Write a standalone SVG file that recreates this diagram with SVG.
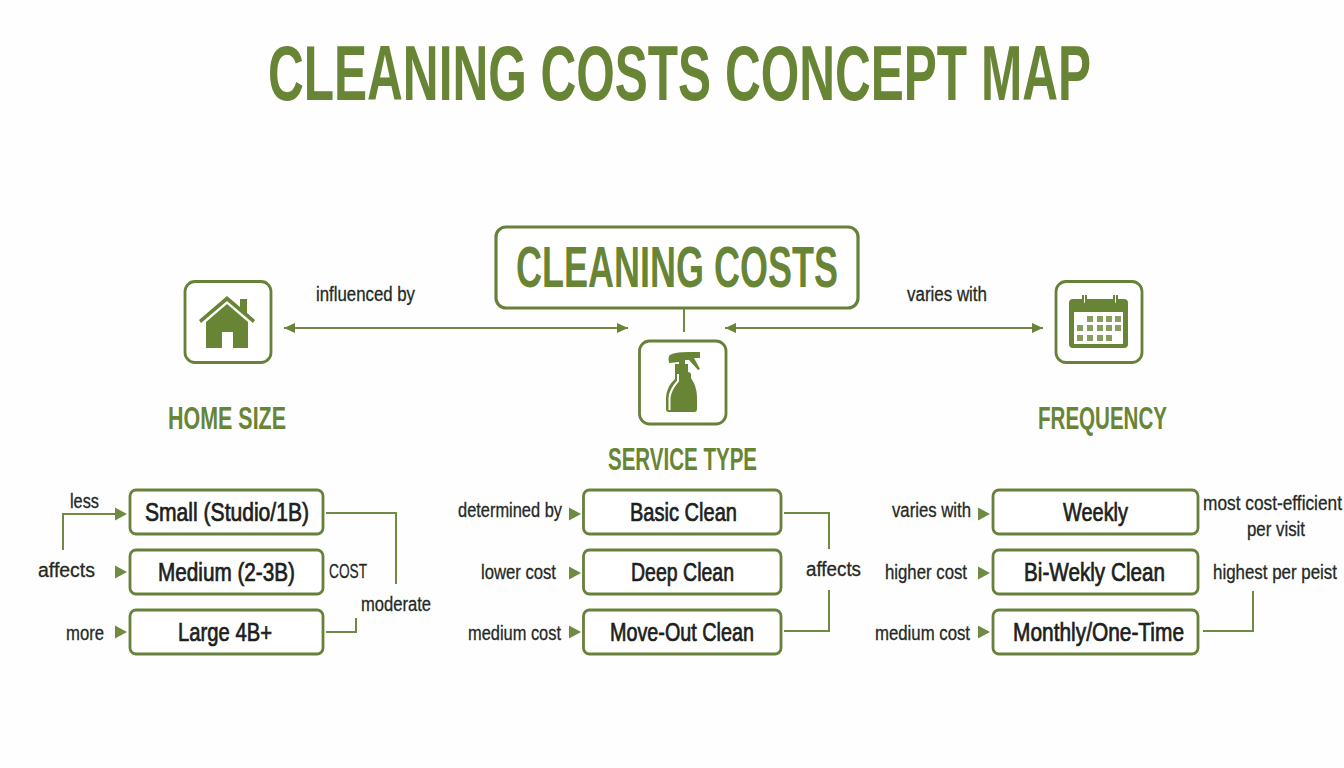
<svg xmlns="http://www.w3.org/2000/svg" width="1344" height="768" viewBox="0 0 1344 768">
<style>
text{font-family:"Liberation Sans Narrow","Liberation Sans",sans-serif;}
.h{fill:#688435;font-weight:700}
.n{fill:#1c211d;font-size:25px;stroke:#1c211d;stroke-width:.7}
.l{fill:#242925;font-size:20px;stroke:#242925;stroke-width:.3}
.box{fill:#fff;stroke:#67813a;stroke-width:2.800}
.c{fill:none;stroke:#6f8a42;stroke-width:2}
.g{fill:#688435}
.w{fill:#fff}
</style>
<defs>
<marker id="a" markerUnits="userSpaceOnUse" markerWidth="12" markerHeight="12" refX="11" refY="5" orient="auto-start-reverse"><path d="M0 0L11 5L0 10Z" fill="#688435"/></marker>
<path id="t" d="M0 -6.500L12 0L0 6.500Z" fill="#6f8a42"/>
</defs>
<rect width="1344" height="768" fill="#fdfefd"/>
<text id="title" class="h" x="268" y="100" font-size="77" textLength="823" lengthAdjust="spacingAndGlyphs">CLEANING COSTS CONCEPT MAP</text>
<g id="connectors">
<path class="c" d="M684 309V332"/>
<path class="c" d="M284 328H628" marker-start="url(#a)" marker-end="url(#a)"/>
<path class="c" d="M725 328H1043" marker-start="url(#a)" marker-end="url(#a)"/>
<path class="c" d="M63 550V514H118"/>
<path class="c" d="M326 513H396V584"/>
<path class="c" d="M326 632H356V618"/>
<path class="c" d="M784 513H829V549"/>
<path class="c" d="M784 631H829V590"/>
<path class="c" d="M1203 631H1253V591"/>
<use href="#t" x="115" y="514"/><use href="#t" x="115" y="572"/><use href="#t" x="115" y="632"/>
<use href="#t" x="569" y="514"/><use href="#t" x="569" y="573"/><use href="#t" x="569" y="632"/>
<use href="#t" x="978" y="514"/><use href="#t" x="978" y="573"/><use href="#t" x="978" y="632"/>
</g>
<g id="node-cleaning-costs"><rect class="box" x="496" y="227" width="362" height="81" rx="10" style="stroke-width:3.200"/>
<text class="h" x="516" y="287" font-size="58" textLength="322" lengthAdjust="spacingAndGlyphs">CLEANING COSTS</text></g>
<g id="node-home-size"><rect class="box" x="185" y="281.500" width="86" height="81" rx="10"/>
<path class="g" d="M199 320L227 296L240 307V299H247V313L255 320L253 323L227 301L201 323Z"/>
<path class="g" fill-rule="evenodd" d="M206 322L227 304L248 322V348H233V332H222V348H206Z"/>
<text class="h" x="168" y="429" font-size="32" textLength="118" lengthAdjust="spacingAndGlyphs">HOME SIZE</text></g>
<g id="node-service-type"><rect class="box" x="639.500" y="341" width="86.500" height="83" rx="10"/>
<path class="g" d="M669 356Q672 352 690 352H700V358H694L700 369L698 370L689 360H685V364H688V372Q691 372 691 375V378Q697 387 697 397V409Q697 412 694 412H669Q666 412 666 409V397Q667 386 675 379V364H679V362L669 363Q668 359 669 356Z"/>
<path fill="none" stroke="#fff" stroke-width="2" d="M678 374V381Q670 390 669.500 398V410"/>
<text class="h" x="608" y="470" font-size="32" textLength="149" lengthAdjust="spacingAndGlyphs">SERVICE TYPE</text></g>
<g id="node-frequency"><rect class="box" x="1056" y="281.500" width="86" height="81" rx="10"/>
<rect class="g" x="1069" y="299" width="59" height="49" rx="4"/>
<rect class="w" x="1074" y="312" width="49" height="32"/>
<path d="M1083 295V302Q1083 304 1085 304Q1086 304 1086 302V295M1114 295V302Q1114 304 1116 304Q1117 304 1117 302V295" fill="#fff" stroke="#688435" stroke-width="2"/>
<path fill="#889d60" d="M1087 316h6v6h-6zM1097 316h6v6h-6zM1106 316h6v6h-6zM1115 316h6v6h-6zM1077 325h6v6h-6zM1087 325h6v6h-6zM1097 325h6v6h-6zM1106 325h6v6h-6zM1115 325h6v6h-6zM1077 335h6v6h-6zM1087 335h6v6h-6zM1097 335h6v6h-6zM1106 335h6v6h-6z"/>
<text class="h" x="1038" y="429" font-size="32" textLength="129" lengthAdjust="spacingAndGlyphs">FREQUENCY</text></g>
<g id="node-small"><rect class="box" x="130" y="490" width="193" height="44" rx="6"/><text class="n" x="145" y="521" textLength="164" lengthAdjust="spacingAndGlyphs">Small (Studio/1B)</text></g>
<g id="node-medium"><rect class="box" x="130" y="550" width="193" height="44" rx="6"/><text class="n" x="158" y="581" textLength="137" lengthAdjust="spacingAndGlyphs">Medium (2-3B)</text></g>
<g id="node-large"><rect class="box" x="130" y="610" width="193" height="44" rx="6"/><text class="n" x="178" y="641" textLength="94" lengthAdjust="spacingAndGlyphs">Large 4B+</text></g>
<g id="node-basic"><rect class="box" x="583.500" y="490" width="197.500" height="44" rx="6"/><text class="n" x="630" y="521" textLength="107" lengthAdjust="spacingAndGlyphs">Basic Clean</text></g>
<g id="node-deep"><rect class="box" x="583.500" y="550" width="197.500" height="44" rx="6"/><text class="n" x="631" y="581" textLength="103" lengthAdjust="spacingAndGlyphs">Deep Clean</text></g>
<g id="node-moveout"><rect class="box" x="583.500" y="610" width="197.500" height="44" rx="6"/><text class="n" x="610" y="641" textLength="144" lengthAdjust="spacingAndGlyphs">Move-Out Clean</text></g>
<g id="node-weekly"><rect class="box" x="993" y="490" width="205" height="44" rx="6"/><text class="n" x="1063" y="521" textLength="65" lengthAdjust="spacingAndGlyphs">Weekly</text></g>
<g id="node-biweekly"><rect class="box" x="993" y="550" width="205" height="44" rx="6"/><text class="n" x="1024" y="581" textLength="141" lengthAdjust="spacingAndGlyphs">Bi-Wekly Clean</text></g>
<g id="node-monthly"><rect class="box" x="993" y="610" width="205" height="44" rx="6"/><text class="n" x="1013" y="641" textLength="171" lengthAdjust="spacingAndGlyphs">Monthly/One-Time</text></g>
<g id="labels">
<text class="l" x="316" y="301" textLength="99" lengthAdjust="spacingAndGlyphs">influenced by</text>
<text class="l" x="907" y="301" textLength="80" lengthAdjust="spacingAndGlyphs">varies with</text>
<text class="l" x="70" y="508" textLength="29" lengthAdjust="spacingAndGlyphs">less</text>
<text class="l" x="38" y="577" textLength="57" lengthAdjust="spacingAndGlyphs">affects</text>
<text class="l" x="66" y="640" textLength="38" lengthAdjust="spacingAndGlyphs">more</text>
<text class="l" x="329" y="578" textLength="38" lengthAdjust="spacingAndGlyphs">COST</text>
<text class="l" x="361" y="611" textLength="70" lengthAdjust="spacingAndGlyphs">moderate</text>
<text class="l" x="458" y="517" textLength="104" lengthAdjust="spacingAndGlyphs">determined by</text>
<text class="l" x="481" y="579" textLength="75" lengthAdjust="spacingAndGlyphs">lower cost</text>
<text class="l" x="468" y="640" textLength="93" lengthAdjust="spacingAndGlyphs">medium cost</text>
<text class="l" x="806" y="576" textLength="55" lengthAdjust="spacingAndGlyphs">affects</text>
<text class="l" x="892" y="517" textLength="79" lengthAdjust="spacingAndGlyphs">varies with</text>
<text class="l" x="885" y="579" textLength="82" lengthAdjust="spacingAndGlyphs">higher cost</text>
<text class="l" x="875" y="640" textLength="95" lengthAdjust="spacingAndGlyphs">medium cost</text>
<text class="l" x="1203" y="510" textLength="139" lengthAdjust="spacingAndGlyphs">most cost-efficient</text>
<text class="l" x="1247" y="536" textLength="58" lengthAdjust="spacingAndGlyphs">per visit</text>
<text class="l" x="1213" y="579" textLength="124" lengthAdjust="spacingAndGlyphs">highest per peist</text>
</g>
</svg>
